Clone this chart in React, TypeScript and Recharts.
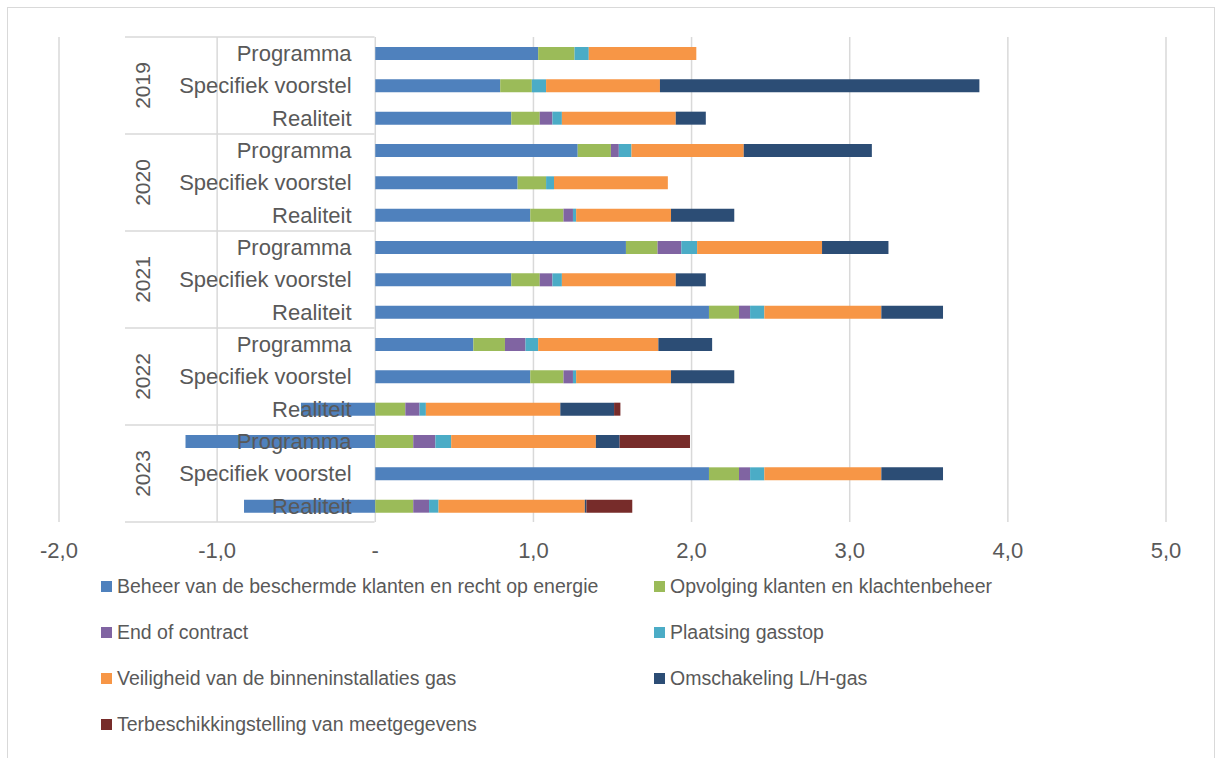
import React from "react";
import { BarChart, Bar, XAxis, YAxis, CartesianGrid } from "recharts";

// Row labels (top to bottom)
const years = ["2019", "2020", "2021", "2022", "2023"];
const scenarios = ["Programma", "Specifiek voorstel", "Realiteit"];

// Series values, one per row (2019 Programma ... 2023 Realiteit)
const beheer = [1.03, 0.79, 0.86, 1.28, 0.9, 0.98, 1.585, 0.86, 2.11, 0.62, 0.98, -0.47, -1.2, 2.11, -0.83];
const opvolging = [0.23, 0.2, 0.18, 0.21, 0.18, 0.21, 0.2, 0.18, 0.19, 0.2, 0.21, 0.19, 0.24, 0.19, 0.24];
const endOfContract = [0, 0, 0.08, 0.05, 0, 0.06, 0.15, 0.08, 0.07, 0.13, 0.06, 0.09, 0.14, 0.07, 0.1];
const gasstop = [0.09, 0.09, 0.06, 0.08, 0.05, 0.02, 0.1, 0.06, 0.09, 0.08, 0.02, 0.04, 0.1, 0.09, 0.06];
const veiligheid = [0.68, 0.72, 0.72, 0.71, 0.72, 0.6, 0.79, 0.72, 0.74, 0.76, 0.6, 0.85, 0.915, 0.74, 0.925];
const omschakeling = [0, 2.02, 0.19, 0.81, 0, 0.4, 0.42, 0.19, 0.39, 0.34, 0.4, 0.34, 0.15, 0.39, 0.01];
const meetgegevens = [0, 0, 0, 0, 0, 0, 0, 0, 0, 0, 0, 0.04, 0.445, 0, 0.29];

const xTicks = [-2, -1, 0, 1, 2, 3, 4, 5];

const series = [
  { key: "beheer", name: "Beheer van de beschermde klanten en recht op energie", color: "#4F81BD", values: beheer },
  { key: "opvolging", name: "Opvolging klanten en klachtenbeheer", color: "#9BBB59", values: opvolging },
  { key: "eoc", name: "End of contract", color: "#8064A2", values: endOfContract },
  { key: "gasstop", name: "Plaatsing gasstop", color: "#4BACC6", values: gasstop },
  { key: "veiligheid", name: "Veiligheid van de binneninstallaties gas", color: "#F79646", values: veiligheid },
  { key: "omschakeling", name: "Omschakeling L/H-gas", color: "#2C4D75", values: omschakeling },
  { key: "meet", name: "Terbeschikkingstelling van meetgegevens", color: "#772C2A", values: meetgegevens },
];

const rows: Record<string, any>[] = [];
years.forEach((year, yi) => {
  scenarios.forEach((sc, si) => {
    const i = yi * 3 + si;
    const row: Record<string, any> = { id: `${year}|${sc}`, year, label: sc, idx: i };
    series.forEach((s) => {
      row[s.key] = s.values[i];
    });
    rows.push(row);
  });
});

const W = 1219;
const H = 758;
const margin = { top: 37, right: 53, bottom: 206, left: 58 };
const plotW = W - margin.left - margin.right;
const plotH = H - margin.top - margin.bottom - 30;
const rowH = plotH / rows.length;
const span = xTicks[xTicks.length - 1] - xTicks[0];
const zeroX = margin.left + ((0 - xTicks[0]) / span) * plotW;
const boxLeft = 125;

const font = "'Liberation Sans', Arial, sans-serif";
const textColor = "#595959";
const lineColor = "#d9d9d9";

const fmt = (v: number) => (v === 0 ? "-" : v.toFixed(1).replace(".", ","));

// Multi-level category labels drawn next to the zero axis
function CategoryTick(props: any) {
  const { y, payload } = props;
  const row = rows.find((r) => r.id === payload?.value);
  if (!row) return null;
  const index = row.idx;
  const top = y - rowH / 2;
  const bottom = y + rowH / 2;
  return (
    <g>
      <text x={zeroX - 23} y={y} dy="0.35em" textAnchor="end" fontSize={22} fill={textColor} fontFamily={font}>
        {row.label}
      </text>
      {index % 3 === 0 && (
        <line x1={boxLeft} x2={zeroX} y1={top} y2={top} stroke={lineColor} strokeWidth={1.5} />
      )}
      {index === rows.length - 1 && (
        <line x1={boxLeft} x2={zeroX} y1={bottom} y2={bottom} stroke={lineColor} strokeWidth={1.5} />
      )}
      {index % 3 === 1 && (
        <text
          x={143}
          y={y}
          dy="0.35em"
          textAnchor="middle"
          fontSize={21}
          fill={textColor}
          fontFamily={font}
          transform={`rotate(-90, 143, ${y})`}
        >
          {row.year}
        </text>
      )}
    </g>
  );
}

export default function App() {
  return (
    <div style={{ position: "absolute", left: 0, top: 0, width: W, height: H, background: "#fff", overflow: "hidden" }}>
      <div
        style={{
          position: "absolute",
          left: 7,
          top: 7,
          width: 1208,
          height: 800,
          border: `1.5px solid ${lineColor}`,
          boxSizing: "border-box",
        }}
      />
      <div style={{ position: "absolute", left: 0, top: 0 }}>
        <BarChart width={W} height={H} data={rows} layout="vertical" stackOffset="sign" margin={margin} barSize={13}>
          <CartesianGrid horizontal={false} stroke={lineColor} strokeWidth={1.5} />
          <XAxis
            type="number"
            domain={[-2, 5]}
            ticks={xTicks}
            allowDataOverflow
            tickFormatter={fmt}
            axisLine={false}
            tickLine={false}
            tickMargin={14}
            height={30}
            tick={{ fontSize: 22, fill: textColor, fontFamily: font }}
          />
          {series.map((s) => (
            <Bar key={s.key} dataKey={s.key} name={s.name} stackId="a" fill={s.color} isAnimationActive={false} />
          ))}
          <YAxis
            type="category"
            dataKey="id"
            width={1}
            axisLine={false}
            tickLine={false}
            interval={0}
            tick={(p: any) => <CategoryTick {...p} />}
          />
        </BarChart>
      </div>
      {/* legend */}
      {series.map((s, i) => {
        const col = i % 2;
        const line = Math.floor(i / 2);
        return (
          <div
            key={s.key}
            style={{
              position: "absolute",
              left: col === 0 ? 101 : 654,
              top: 586 + line * 46 - 12,
              height: 24,
              display: "flex",
              alignItems: "center",
              fontFamily: font,
              fontSize: 19.5,
              color: textColor,
              whiteSpace: "nowrap",
            }}
          >
            <span style={{ display: "inline-block", width: 11, height: 11, background: s.color, marginRight: 5 }} />
            {s.name}
          </div>
        );
      })}
    </div>
  );
}
